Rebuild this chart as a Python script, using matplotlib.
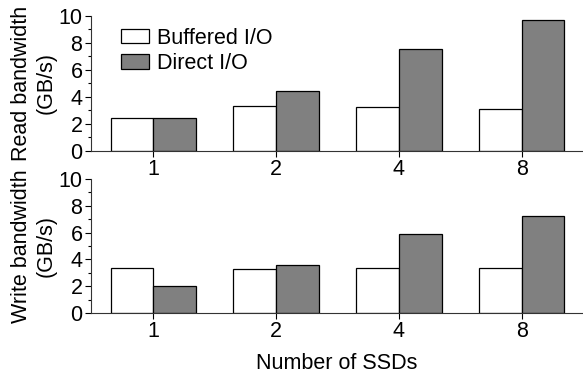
import matplotlib
matplotlib.use("Agg")
import matplotlib.pyplot as plt
import numpy as np
from matplotlib.ticker import MultipleLocator

plt.rcParams['font.family'] = ['Liberation Sans', 'DejaVu Sans']
plt.rcParams['font.size'] = 15.5

# number of SSDs on the x axis
ssds = ['1', '2', '4', '8']

# read bandwidth in GB/s
read_buffered = [2.45, 3.33, 3.26, 3.11]
read_direct = [2.45, 4.42, 7.53, 9.66]

# write bandwidth in GB/s
write_buffered = [3.34, 3.31, 3.34, 3.36]
write_direct = [1.99, 3.58, 5.87, 7.22]

fig = plt.figure(figsize=(5.83, 3.78), dpi=100)
ax1 = fig.add_axes([0.1556, 0.6013, 0.8444, 0.3572])
ax2 = fig.add_axes([0.1556, 0.172, 0.8444, 0.3545])

x = np.arange(len(ssds))
w = 0.348


def draw(ax, buf, direct, ylabel):
    ax.bar(x - w / 2, buf, w, color='white', edgecolor='black',
           linewidth=0.9, label='Buffered I/O')
    ax.bar(x + w / 2, direct, w, color='#808080', edgecolor='black',
           linewidth=0.9, label='Direct I/O')
    ax.set_xlim(-0.51, 3.5)
    ax.set_ylim(0, 10)
    ax.set_xticks(x)
    ax.set_xticklabels(ssds)
    ax.yaxis.set_major_locator(MultipleLocator(2))
    ax.yaxis.set_minor_locator(MultipleLocator(1))
    ax.tick_params(axis='y', which='major', direction='out', length=4,
                   width=0.8, pad=2)
    ax.tick_params(axis='y', which='minor', direction='out', length=2.5,
                   width=0.8)
    ax.tick_params(axis='x', direction='out', length=4, width=0.8, pad=2)
    for s in ['top', 'right']:
        ax.spines[s].set_visible(False)
    for s in ['left', 'bottom']:
        ax.spines[s].set_linewidth(0.8)
        ax.spines[s].set_color('#333333')
    ax.set_ylabel(ylabel, linespacing=1.25, labelpad=1)


draw(ax1, read_buffered, read_direct, 'Read bandwidth\n(GB/s)')
draw(ax2, write_buffered, write_direct, 'Write bandwidth\n(GB/s)')

ax1.legend(loc='upper left', bbox_to_anchor=(0.045, 0.975), frameon=False,
           handlelength=1.3, handleheight=0.65, handletextpad=0.37,
           labelspacing=0.2, borderaxespad=0)

ax2.set_xlabel('Number of SSDs', labelpad=8)

fig.savefig('out.png', dpi=100)
